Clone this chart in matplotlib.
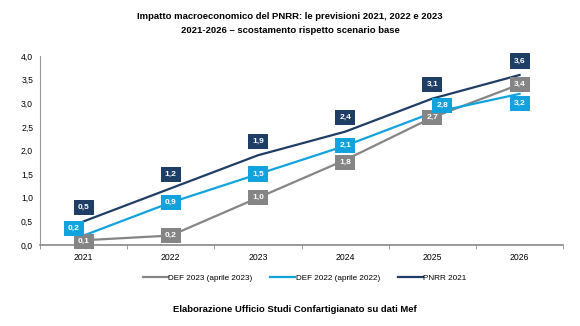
import matplotlib.pyplot as plt
import numpy as np

plt.rcParams['font.family'] = ['Liberation Sans', 'DejaVu Sans']

years = ['2021', '2022', '2023', '2024', '2025', '2026']
def_2023 = [0.1, 0.2, 1.0, 1.8, 2.7, 3.4]
def_2022 = [0.2, 0.9, 1.5, 2.1, 2.8, 3.2]
pnrr_2021 = [0.5, 1.2, 1.9, 2.4, 3.1, 3.6]

c_gray = '#858585'
c_light = '#12A3DE'
c_navy = '#1F3E66'

fig = plt.figure(figsize=(5.8, 3.26), dpi=100)
ax = fig.add_axes([0.069, 0.2485, 0.902, 0.5795])

x = np.arange(len(years))
ax.plot(x, def_2023, color=c_gray, lw=1.6, label='DEF 2023 (aprile 2023)', zorder=2)
ax.plot(x, def_2022, color=c_light, lw=1.6, label='DEF 2022 (aprile 2022)', zorder=3)
ax.plot(x, pnrr_2021, color=c_navy, lw=1.6, label='PNRR 2021', zorder=4)


def tag(xi, yi, val, color, dx=0, dy=0):
    ax.annotate(f'{val:.1f}'.replace('.', ','), (xi, yi), xytext=(dx, dy),
                textcoords='offset points', ha='center', va='center',
                fontsize=6, fontweight='bold', color='white', zorder=6,
                bbox=dict(boxstyle='square,pad=0.5', fc=color, ec='none'))


# offsets in points for each series' value boxes
off_gray = [(0, -1), (0, 0), (0, 0), (0, -2), (0, 0), (0, 0)]
off_light = [(-7, 5), (0, 0), (0, 0), (0, 0), (7, 5), (0, -7)]
for i in range(len(years)):
    tag(x[i], def_2023[i], def_2023[i], c_gray, *off_gray[i])
    tag(x[i], def_2022[i], def_2022[i], c_light, *off_light[i])
    tag(x[i], pnrr_2021[i], pnrr_2021[i], c_navy, 0, 10)

ax.set_xlim(-0.5, len(years) - 0.5)
ax.set_ylim(0, 4)
ax.set_yticks(np.arange(0, 4.01, 0.5))
ax.set_yticklabels([f'{v:.1f}'.replace('.', ',') for v in np.arange(0, 4.01, 0.5)])
ax.set_xticks(x)
ax.set_xticklabels(years)
ax.set_xticks(np.arange(-0.5, len(years)), minor=True)
ax.tick_params(axis='x', which='major', length=0, labelsize=6.2, pad=6)
ax.tick_params(axis='x', which='minor', length=3, direction='out', color='#888888')
ax.tick_params(axis='y', length=0, labelsize=6.2, pad=5)
for side in ['top', 'right']:
    ax.spines[side].set_visible(False)
ax.spines['left'].set_color('#999999')
ax.spines['bottom'].set_color('#888888')
ax.spines['bottom'].set_linewidth(1.2)

ax.legend(loc='center', bbox_to_anchor=(0.506, -0.175), ncol=3, frameon=False,
          fontsize=5.9, handlelength=3.05, handletextpad=0.05, columnspacing=2.2)

fig.text(0.5, 0.948, 'Impatto macroeconomico del PNRR: le previsioni 2021, 2022 e 2023',
         ha='center', va='center', fontsize=6.8, fontweight='bold')
fig.text(0.5, 0.905, '2021-2026 – scostamento rispetto scenario base',
         ha='center', va='center', fontsize=6.8, fontweight='bold')
fig.text(0.508, 0.052, 'Elaborazione Ufficio Studi Confartigianato su dati Mef',
         ha='center', va='center', fontsize=6.8, fontweight='bold')

fig.savefig('out.png', dpi=100)
